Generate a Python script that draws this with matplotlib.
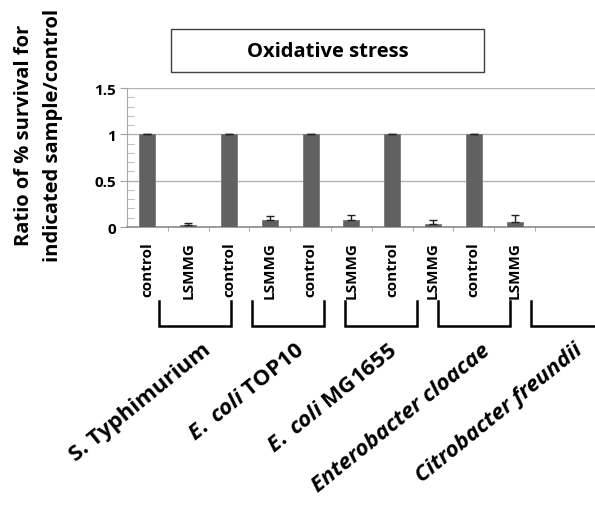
import matplotlib
matplotlib.use("Agg")
import matplotlib.pyplot as plt
import matplotlib.transforms as mtransforms
from matplotlib.patches import Rectangle
import numpy as np

plt.rcParams['font.family'] = ['Open Sans', 'DejaVu Sans']
plt.rcParams['font.weight'] = 'bold'
plt.rcParams['mathtext.fontset'] = 'custom'
plt.rcParams['mathtext.it'] = 'Open Sans:italic:bold'
plt.rcParams['mathtext.rm'] = 'Open Sans:bold'

# survival ratios, one control + one LSMMG bar per strain
bar_labels = ['control', 'LSMMG'] * 5
ratios = [1.0, 0.02, 1.0, 0.076, 1.0, 0.08, 1.0, 0.036, 1.0, 0.058]
errors = [0.0, 0.025, 0.0, 0.04, 0.0, 0.05, 0.0, 0.036, 0.0, 0.075]
strains = ['S. Typhimurium', r'$\mathit{E.}$ $\mathit{coli}$ TOP10', r'$\mathit{E.}$ $\mathit{coli}$ MG1655',
           'Enterobacter cloacae', 'Citrobacter freundii']
strain_italic = [False, False, False, True, True]

W, H = 595, 506
fig = plt.figure(figsize=(W / 100, H / 100), dpi=100)
ax = fig.add_axes([127 / W, 1 - 228 / H, 468 / W, 139 / H])

x = np.arange(len(ratios))
ax.bar(x, ratios, width=0.39, color='#616161', edgecolor='#787878', linewidth=0.6, zorder=3)
ax.errorbar(x, ratios, yerr=[np.zeros(len(errors)), errors], fmt='none',
            ecolor='#222222', elinewidth=1, capsize=3.2, capthick=1, zorder=4)

ax.set_xlim(-0.5, 10.97)
ax.set_ylim(0, 1.5)
ax.set_yticks([0, 0.5, 1, 1.5])
ax.set_yticklabels(['0', '0.5', '1', '1.5'])
ax.set_yticks(np.arange(0, 1.51, 0.1), minor=True)
ax.yaxis.grid(True, which='major', color='#b4b4b4', linewidth=1, zorder=0)
ax.tick_params(axis='y', which='major', direction='out', length=5, color='#a0a0a0',
               labelsize=11, pad=3)
ax.tick_params(axis='y', which='minor', direction='in', length=5, color='#b4b4b4')

ax.set_xticks(x)
ax.set_xticklabels(bar_labels, rotation=90, fontsize=11, va='top')
ax.tick_params(axis='x', which='major', length=0, pad=10)
ax.set_xticks(np.arange(0.5, 10.5, 1), minor=True)
ax.tick_params(axis='x', which='minor', direction='out', length=3, color='#a0a0a0')

for side in ['top', 'right']:
    ax.spines[side].set_visible(False)
ax.spines['left'].set_color('#a8a8a8')
ax.spines['bottom'].set_color('#8c8c8c')
ax.spines['bottom'].set_linewidth(1.2)

# title box
fig.patches.append(Rectangle((171 / W, 1 - 73 / H), 313 / W, 43 / H, transform=fig.transFigure,
                             facecolor='white', edgecolor='#404040', linewidth=1))
fig.text(327.5 / W, 1 - 52 / H, 'Oxidative stress', ha='center', va='center', fontsize=14.5)

# y axis label, two lines
fig.text(24 / W, 1 - 135 / H, 'Ratio of % survival for', rotation=90, ha='center', va='center',
         fontsize=14.5)
fig.text(53 / W, 1 - 135 / H, 'indicated sample/control', rotation=90, ha='center', va='center',
         fontsize=14.5)

# strain brackets and names under the bar pairs
trans = mtransforms.blended_transform_factory(ax.transData, fig.transFigure)
y_top, y_bot = 1 - 302 / H, 1 - 327 / H
for i, (name, ital) in enumerate(zip(strains, strain_italic)):
    left = 0.28 + 2.28 * i
    right = left + 1.76
    ax.plot([left, left, right, right], [y_top, y_bot, y_bot, y_top], color='black',
            linewidth=1.8, transform=trans, clip_on=False, solid_joinstyle='miter')
    ax.text(left + 0.88 + 0.17, 1 - 340 / H, name, transform=trans, rotation=39,
            rotation_mode='anchor', ha='right', va='top', fontsize=16,
            style='italic' if ital else 'normal')

fig.savefig('out.png', dpi=100)
